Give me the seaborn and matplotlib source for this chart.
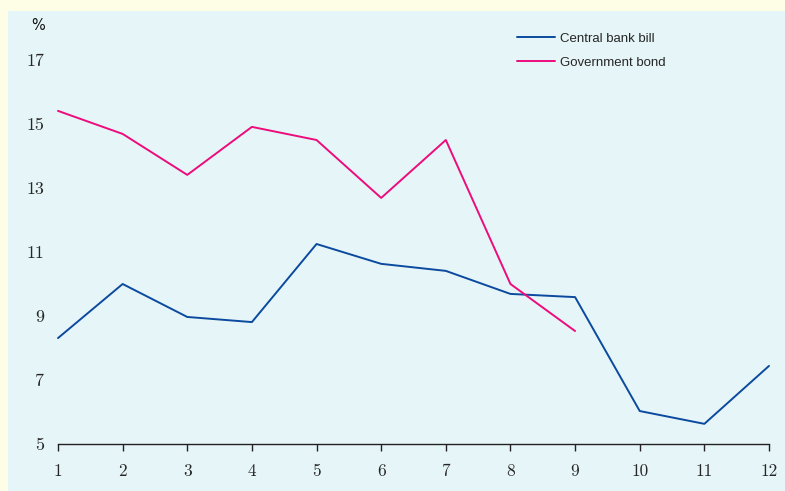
import matplotlib
matplotlib.use("Agg")
import matplotlib.pyplot as plt
from matplotlib.patches import Rectangle
import seaborn as sns
import pandas as pd

# Monthly yields, %
months = [1, 2, 3, 4, 5, 6, 7, 8, 9, 10, 11, 12]
central_bank_bill = [8.31, 10.0, 8.97, 8.81, 11.25, 10.63, 10.41, 9.69, 9.59, 6.03, 5.63, 7.44]
bond_months = [1, 2, 3, 4, 5, 6, 7, 8, 9]
government_bond = [15.41, 14.69, 13.41, 14.91, 14.5, 12.69, 14.5, 10.0, 8.53]
series_names = ["Central bank bill", "Government bond"]
y_ticks = [5, 7, 9, 11, 13, 15, 17]

df = pd.concat([
    pd.DataFrame({"month": months, "yield": central_bank_bill, "series": series_names[0]}),
    pd.DataFrame({"month": bond_months, "yield": government_bond, "series": series_names[1]}),
], ignore_index=True)

sns.set_style("white")
plt.rcParams["mathtext.fontset"] = "cm"

W, H = 785, 491
fig = plt.figure(figsize=(W / 100, H / 100), dpi=100, facecolor="#FEFEE6")
# light blue panel behind the chart
fig.patches.append(Rectangle((8 / W, 0), 1 - 8 / W, 1 - 11 / H, transform=fig.transFigure,
                             facecolor="#E6F5F8", edgecolor="none", zorder=-10))

ax = fig.add_axes([58 / W, (H - 444) / H, (769 - 58) / W, (444 - 28) / H])
ax.set_facecolor("none")

sns.lineplot(data=df, x="month", y="yield", hue="series", ax=ax,
             palette={series_names[0]: "#0B4A9E", series_names[1]: "#EC0C7C"},
             linewidth=1.4, legend=False, clip_on=False)

ax.set_xlim(1, 12)
ax.set_ylim(5, 18)
ax.set_xticks(months)
ax.set_yticks(y_ticks)
ax.set_xticklabels([str(m) for m in months], fontfamily="cmr10", fontsize=12.5)
ax.set_yticklabels([str(t) for t in y_ticks], fontfamily="cmr10", fontsize=13)
ax.tick_params(axis="x", bottom=True, direction="out", length=5, width=1,
               color="#222222", pad=9)
ax.tick_params(axis="y", left=False, length=0, pad=10)
ax.set_xlabel("")
ax.set_ylabel("")
for side in ["top", "right", "left"]:
    ax.spines[side].set_visible(False)
ax.spines["bottom"].set_color("#222222")
ax.spines["bottom"].set_linewidth(1.0)

fig.text(38 / W, 1 - 26 / H, "%", fontsize=10.5, fontfamily="DejaVu Sans",
         ha="center", va="center", color="#111111")

handles = [ax.lines[0], ax.lines[1]]
leg = ax.legend(handles, series_names, loc="upper left",
                bbox_to_anchor=(505 / W, 1 - 21 / H), bbox_transform=fig.transFigure,
                frameon=False, prop={"family": "Liberation Sans", "size": 9.5},
                handlelength=2.9, handletextpad=0.35, labelspacing=0.85)

fig.savefig("out.png", dpi=100, facecolor=fig.get_facecolor())
